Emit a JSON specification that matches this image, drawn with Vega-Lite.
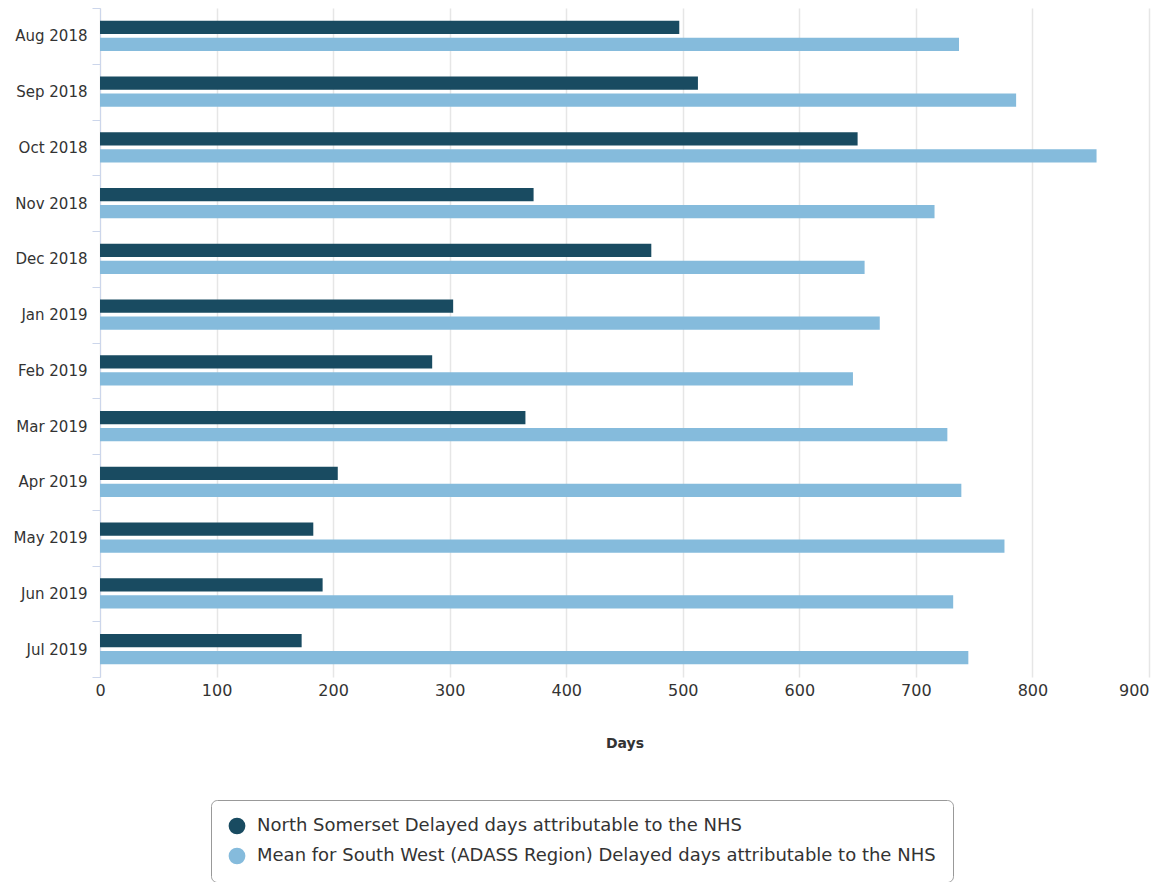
{
  "$schema": "https://vega.github.io/schema/vega-lite/v6.json",
  "autosize": {"type": "none"},
  "padding": {"left": 100, "top": 8, "right": 7, "bottom": 205},
  "width": 1049,
  "height": 669,
  "config": {"font": "DejaVu Sans", "view": {"stroke": null}, "background": "white"},
  "data": {"values": [
    {"month": "Aug 2018", "series": "North Somerset Delayed days attributable to the NHS", "days": 497},
    {"month": "Aug 2018", "series": "Mean for South West (ADASS Region) Delayed days attributable to the NHS", "days": 737},
    {"month": "Sep 2018", "series": "North Somerset Delayed days attributable to the NHS", "days": 513},
    {"month": "Sep 2018", "series": "Mean for South West (ADASS Region) Delayed days attributable to the NHS", "days": 786},
    {"month": "Oct 2018", "series": "North Somerset Delayed days attributable to the NHS", "days": 650},
    {"month": "Oct 2018", "series": "Mean for South West (ADASS Region) Delayed days attributable to the NHS", "days": 855},
    {"month": "Nov 2018", "series": "North Somerset Delayed days attributable to the NHS", "days": 372},
    {"month": "Nov 2018", "series": "Mean for South West (ADASS Region) Delayed days attributable to the NHS", "days": 716},
    {"month": "Dec 2018", "series": "North Somerset Delayed days attributable to the NHS", "days": 473},
    {"month": "Dec 2018", "series": "Mean for South West (ADASS Region) Delayed days attributable to the NHS", "days": 656},
    {"month": "Jan 2019", "series": "North Somerset Delayed days attributable to the NHS", "days": 303},
    {"month": "Jan 2019", "series": "Mean for South West (ADASS Region) Delayed days attributable to the NHS", "days": 669},
    {"month": "Feb 2019", "series": "North Somerset Delayed days attributable to the NHS", "days": 285},
    {"month": "Feb 2019", "series": "Mean for South West (ADASS Region) Delayed days attributable to the NHS", "days": 646},
    {"month": "Mar 2019", "series": "North Somerset Delayed days attributable to the NHS", "days": 365},
    {"month": "Mar 2019", "series": "Mean for South West (ADASS Region) Delayed days attributable to the NHS", "days": 727},
    {"month": "Apr 2019", "series": "North Somerset Delayed days attributable to the NHS", "days": 204},
    {"month": "Apr 2019", "series": "Mean for South West (ADASS Region) Delayed days attributable to the NHS", "days": 739},
    {"month": "May 2019", "series": "North Somerset Delayed days attributable to the NHS", "days": 183},
    {"month": "May 2019", "series": "Mean for South West (ADASS Region) Delayed days attributable to the NHS", "days": 776},
    {"month": "Jun 2019", "series": "North Somerset Delayed days attributable to the NHS", "days": 191},
    {"month": "Jun 2019", "series": "Mean for South West (ADASS Region) Delayed days attributable to the NHS", "days": 732},
    {"month": "Jul 2019", "series": "North Somerset Delayed days attributable to the NHS", "days": 173},
    {"month": "Jul 2019", "series": "Mean for South West (ADASS Region) Delayed days attributable to the NHS", "days": 745}
  ]},
  "mark": {"type": "bar"},
  "encoding": {
    "y": {
      "field": "month", "type": "nominal", "sort": null,
      "scale": {"paddingInner": 0, "paddingOuter": 0},
      "axis": {
        "title": null, "tickBand": "extent", "grid": false,
        "domainColor": "#ccd6eb", "tickColor": "#ccd6eb", "tickSize": 8,
        "labelFontSize": 15, "labelColor": "#333333", "labelPadding": 5
      }
    },
    "yOffset": {
      "field": "series", "type": "nominal", "sort": null,
      "scale": {"paddingInner": 0.235, "paddingOuter": 0.757}
    },
    "x": {
      "field": "days", "type": "quantitative",
      "scale": {"domain": [0, 900], "nice": false},
      "axis": {
        "title": "Days", "titleFontSize": 14, "titleFontWeight": "bold", "titleColor": "#333333",
        "titlePadding": 38, "values": [0, 100, 200, 300, 400, 500, 600, 700, 800, 900],
        "domain": false, "ticks": false, "grid": true, "gridColor": "#e6e6e6", "gridWidth": 1.5,
        "labelFontSize": 16, "labelColor": "#333333", "labelPadding": 5, "labelFlush": false,
        "labelAlign": {"expr": "datum.value == 900 ? 'right' : 'center'"}
      }
    },
    "color": {
      "field": "series", "type": "nominal", "sort": null,
      "scale": {
        "domain": ["North Somerset Delayed days attributable to the NHS", "Mean for South West (ADASS Region) Delayed days attributable to the NHS"],
        "range": ["#194b61", "#85bbdc"]
      },
      "legend": {
        "title": null, "orient": "none", "legendX": 111, "legendY": 792, "direction": "vertical",
        "strokeColor": "#999999", "cornerRadius": 6, "padding": 17, "fillColor": "white",
        "symbolType": "circle", "symbolSize": 280, "symbolStrokeWidth": 0, "symbolOpacity": 1,
        "labelFontSize": 18, "labelColor": "#333333", "labelLimit": 900, "rowPadding": 12, "labelOffset": 11
      }
    }
  }
}
